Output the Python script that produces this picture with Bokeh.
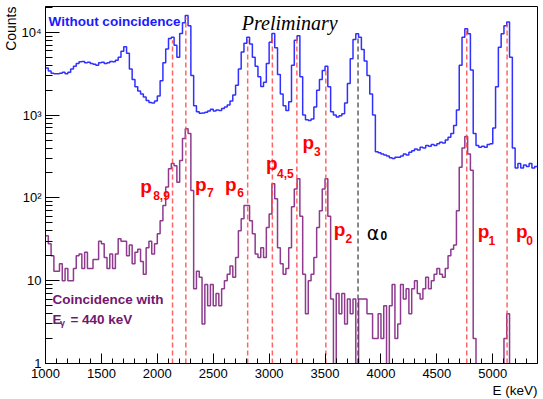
import numpy as np
from bokeh.plotting import figure
from bokeh.models import Label, FixedTicker, Range1d, Title
from bokeh.embed import file_html
from bokeh.resources import INLINE

# ---------------- data ----------------
e_min = 1000
e_max = 5400
bin_width = 25

without_coincidence = [
    3700, 3400, 3200, 3150, 3150, 3200, 3300, 3150, 3300, 3600,
    3900, 4200, 4400, 4450, 4300, 4350, 4200, 4100, 3990, 4300,
    4350, 4200, 4300, 4450, 4400, 4600, 5000, 5900, 6700, 5600,
    3600, 2700, 2200, 1950, 1800, 1650, 1500, 1420, 1400, 1480,
    1700, 2600, 4300, 6300, 8400, 8700, 7000, 5000, 9700, 13000,
    15900, 12000, 3000, 1300, 1100, 1050, 1060, 1080, 1120, 1180,
    1120, 1150, 1140, 1200, 1250, 1320, 1480, 1750, 2300, 3600,
    5800, 7400, 8700, 7200, 5000, 3900, 2900, 2220, 2500, 4200,
    7600, 9700, 6500, 3100, 1800, 1300, 1140, 1450, 4000, 8000,
    9100, 2900, 1000, 880, 860, 900, 1250, 2000, 2700, 3450,
    3900, 2200, 1100, 1000, 950, 980, 1040, 1400, 2400, 4800,
    8200, 9600, 8700, 6200, 4500, 3000, 1800, 1000, 360, 350,
    340, 330, 320, 305, 300, 310, 310, 320, 340, 330,
    355, 370, 390, 380, 410, 400, 430, 420, 440, 430,
    450, 470, 460, 500, 540, 600, 750, 1150, 4000, 8700,
    11000, 9600, 3500, 600, 430, 410, 420, 410, 440, 450,
    700, 2200, 6600, 9600, 12000, 13300, 5000, 400, 230, 260,
    230, 250, 240, 260, 230, 240,
]

coincidence_440 = [
    35, 28, 20, 13, 13, 16, 10, 14, 10, 10,
    14, 20, 21, 14, 22, 14, 14, 18, 18, 30,
    28, 19, 14, 21, 14, 21, 32, 30, 30, 20,
    27, 16, 22, 24, 17, 12, 25, 30, 21, 28,
    37, 53, 81, 135, 225, 260, 245, 155, 283, 520,
    685, 600, 123, 8, 13, 11, 3, 9, 5, 9,
    5, 7, 5, 8, 10, 12, 15, 11, 19, 40,
    56, 81, 81, 53, 37, 21, 19, 25, 19, 44,
    64, 148, 98, 25, 16, 12, 14, 25, 78, 128,
    170, 60, 12, 4, 10, 12, 19, 44, 70, 128,
    170, 60, 6, 0, 7, 4, 7, 3, 6, 4,
    6, 0, 6, 6, 6, 4, 4, 2, 2, 4,
    2, 5, 0, 5, 9, 2, 3, 9, 6, 8,
    4, 8, 10, 7, 6, 8, 11, 8, 10, 12,
    14, 12, 11, 14, 20, 24, 27, 70, 235, 400,
    550, 340, 215, 2, 0, 0, 0, 0, 0, 0,
    0, 0, 0, 0, 2, 4, 0, 0, 0, 0,
    0, 0, 0, 0, 0, 0,
]

proton_lines = [2136, 2255, 2808, 3029, 3248, 3507, 4767, 5128]
proton_line_tops = [8000, 15000, 8200, 9000, 8500, 3700, 10500, 12500]
alpha0_line = 3795
alpha0_line_top = 9000

x_ticks = [1000, 1500, 2000, 2500, 3000, 3500, 4000, 4500, 5000]
y_ticks = [1, 10, 100, 1000, 10000]
y_tick_labels = ["1", "10", "10²", "10³", "10⁴"]

# ---------------- figure ----------------
edges = np.arange(e_min, e_max + bin_width, bin_width)
frame_h = 399 - 6 - 36
ymax = 10 ** (frame_h / 82.8)

p = figure(width=543, height=399, y_axis_type="log",
           x_range=Range1d(e_min, e_max), y_range=Range1d(1, ymax),
           output_backend="svg", toolbar_location=None,
           min_border_left=45, min_border_right=6,
           min_border_top=6, min_border_bottom=36)
p.background_fill_color = "white"
p.border_fill_color = "white"
p.outline_line_color = "black"
p.outline_line_width = 1
p.grid.visible = False

FLOOR = 0.3  # empty bins drawn down past the bottom of the log axis


def step_xy(vals):
    v = np.maximum(np.asarray(vals, dtype=float), FLOOR)
    return edges, np.append(v, v[-1])


bx, by = step_xy(without_coincidence)
p.step(bx, by, mode="after", line_color="#3030ff", line_width=1.5)
cx, cy = step_xy(coincidence_440)
p.step(cx, cy, mode="after", line_color="#8e3a8e", line_width=1.5)

p.segment(x0=proton_lines, y0=[1] * len(proton_lines), x1=proton_lines,
          y1=proton_line_tops, line_color="#ff4a4a", line_width=1.5,
          line_dash="5 3", line_alpha=0.85)
p.segment(x0=[alpha0_line], y0=[1], x1=[alpha0_line], y1=[alpha0_line_top],
          line_color="#444444", line_width=1.5, line_dash="5 3", line_alpha=0.85)

# ---------------- axes ----------------
p.xaxis.ticker = FixedTicker(ticks=x_ticks,
                             minor_ticks=list(range(e_min, e_max + 1, 100)))
p.yaxis.ticker = FixedTicker(ticks=y_ticks,
                             minor_ticks=[m * 10 ** k for k in range(0, 5) for m in range(2, 10)])
p.yaxis.major_label_overrides = dict(zip(y_ticks, y_tick_labels))

for ax in p.axis:
    ax.axis_line_color = "black"
    ax.major_tick_line_color = "black"
    ax.minor_tick_line_color = "black"
    ax.major_tick_out = 0
    ax.minor_tick_out = 0
    ax.major_label_text_font = "Liberation Sans"
    ax.major_label_text_font_size = "13px"
    ax.major_label_text_color = "black"

p.xaxis.major_tick_in = 10
p.xaxis.minor_tick_in = 5
p.xaxis.major_label_standoff = 5
p.yaxis.major_tick_in = 14
p.yaxis.minor_tick_in = 7
p.yaxis.major_label_standoff = 4

p.add_layout(Title(text="Counts", align="right", text_font="Liberation Sans",
                   text_font_size="14px", text_font_style="normal",
                   text_color="black", standoff=0, offset=0), "left")
p.add_layout(Title(text="E (keV)", align="right", text_font="Liberation Sans",
                   text_font_size="13.5px", text_font_style="normal",
                   text_color="black", standoff=0, offset=0), "below")

# ---------------- texts ----------------
SANS = "Liberation Sans"


def add_label(x, y, text, size, color, style="bold", font=SANS, align="left"):
    p.add_layout(Label(x=x, y=y, text=text, text_font=font, text_font_size=size,
                       text_font_style=style, text_color=color, text_align=align,
                       text_baseline="alphabetic"))


add_label(1027, 13500, "Without coincidence", "13.5px", "#1a1aff")
add_label(2755, 12800, "Preliminary", "20px", "black", style="italic", font="Liberation Serif")
add_label(1062, 5.93, "Coincidence with", "13.5px", "#701870")
add_label(1062, 3.40, "E", "13.5px", "#701870")
add_label(1129, 3.10, "γ", "9px", "#701870")
add_label(1223, 3.40, "= 440 keV", "13.5px", "#701870")

peak_labels = [
    ("p", "8,9", 1847, 137, 1963, 107),
    ("p", "7", 2338, 145, 2445, 116),
    ("p", "6", 2606, 145, 2715, 116),
    ("p", "4,5", 2971, 260, 3070, 197),
    ("p", "3", 3299, 467, 3402, 363),
    ("p", "2", 3578, 41.5, 3682, 32.3),
    ("p", "1", 4865, 39.3, 4961, 30.6),
    ("p", "0", 5208, 39.3, 5300, 30.6),
]
for main, sub, mx, my, sx, sy in peak_labels:
    add_label(mx, my, main, "19px", "#ff0000")
    add_label(sx, sy, sub, "12px", "#ff0000")

add_label(3872, 38.2, "α", "19px", "black", style="normal", font="DejaVu Sans")
add_label(3995, 35.2, "0", "12px", "black")

open("out.html", "w").write(file_html(p, INLINE))
